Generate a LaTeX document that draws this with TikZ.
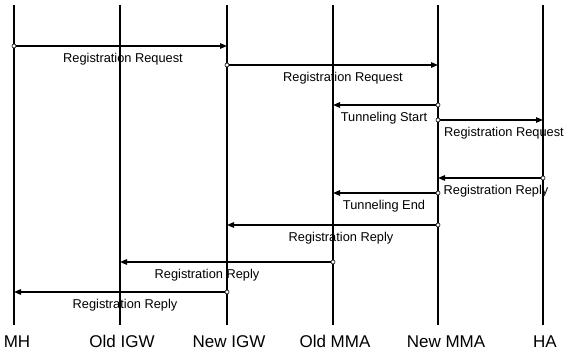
\documentclass[tikz,border=0pt]{standalone}
\usepackage{fontspec}
\setmainfont{Liberation Sans}
\usetikzlibrary{arrows.meta}
\begin{document}
\begin{tikzpicture}[x=1pt,y=-1pt,
 life/.style={line width=2.2pt},
 msg/.style={line width=1.2pt,-{Triangle[length=7pt,width=5.5pt]}},
 src/.style={circle,draw,line width=0.6pt,fill=white,inner sep=0pt,minimum size=4pt},
 lbl/.style={font=\fontsize{12.8}{14}\selectfont,anchor=north,inner sep=0pt},
 actor/.style={font=\fontsize{17}{18}\selectfont,anchor=base,inner sep=0pt}]
\useasboundingbox (0,0) rectangle (566,352);
% lifelines
\foreach \n/\x in {MH/14,OIGW/120,NIGW/227,OMMA/333,NMMA/438,HA/543}{
  \coordinate (\n-t) at (\x,5);
  \coordinate (\n-b) at (\x,325);
  \draw[life] (\n-t) -- (\n-b);
}
% actor names
\node[actor] (lMH) at (17,348) {MH};
\node[actor] (lOIGW) at (122,348) {Old IGW};
\node[actor] (lNIGW) at (229,348) {New IGW};
\node[actor] (lOMMA) at (335,348) {Old MMA};
\node[actor] (lNMMA) at (446,348) {New MMA};
\node[actor] (lHA) at (545,348) {HA};
% messages: name/from/to/y/labelx/text
\foreach \k/\f/\t/\y/\lx/\txt in {
  1/MH/NIGW/46/123/Registration Request,
  2/NIGW/NMMA/65/343/Registration Request,
  3/NMMA/OMMA/105/384/Tunneling Start,
  4/NMMA/HA/120/504/Registration Request,
  5/HA/NMMA/178/496/Registration Reply,
  6/NMMA/OMMA/193/384/Tunneling End,
  7/NMMA/NIGW/225/341/Registration Reply,
  8/OMMA/OIGW/262/207/Registration Reply,
  9/NIGW/MH/292/125/Registration Reply}{
  \coordinate (s\k) at (\f-t |- 0,\y);
  \coordinate (e\k) at (\t-t |- 0,\y);
  \draw[msg] (s\k) -- (e\k);
  \node[src] (c\k) at (s\k) {};
  \node[lbl] (t\k) at (\lx,\y+7) {\txt};
}
\end{tikzpicture}
\end{document}
